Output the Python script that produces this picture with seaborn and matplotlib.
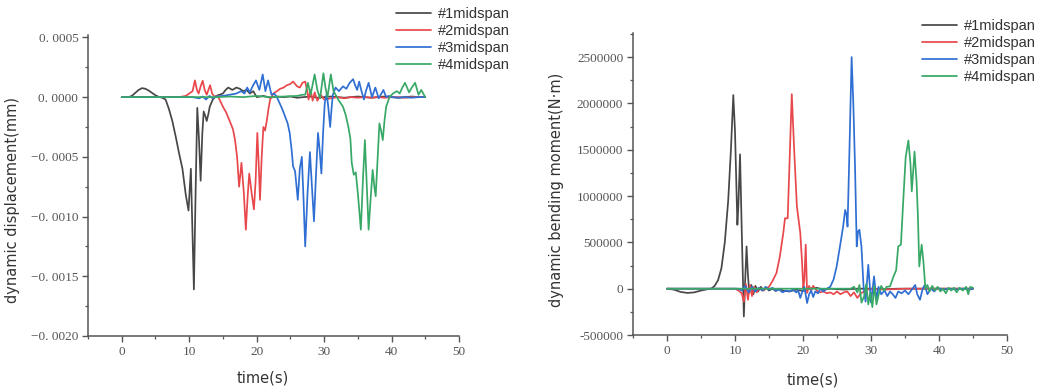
import numpy as np
import pandas as pd
import matplotlib
matplotlib.use("Agg")
import matplotlib.pyplot as plt
from matplotlib.ticker import MultipleLocator, FuncFormatter
import seaborn as sns

series_names = ["#1midspan", "#2midspan", "#3midspan", "#4midspan"]
series_colors = ["#474747", "#e8484c", "#2f6fd3", "#38a866"]

# ---------------- dynamic displacement (unit: 1e-4 mm) ----------------
disp1_t = [0, 1, 1.5, 2, 2.5, 3, 3.5, 4, 4.5, 5, 5.5, 6, 6.5, 7, 7.5, 8, 8.5, 9, 9.5, 9.9,
           10.05, 10.25, 10.45, 10.7, 10.95, 11.2, 11.45, 11.7, 11.95, 12.15, 12.4, 12.6, 12.85,
           13.05, 13.5, 14, 14.5, 15, 15.4, 15.8, 16.4, 17, 17.5, 18, 18.5, 19, 19.5, 20, 21,
           22, 23, 24, 25, 26, 27, 28, 29, 30, 31, 32, 33, 34, 35, 36, 37, 38, 39, 40, 41, 42,
           43, 44, 45]
disp1_v = [0, 0, 0.1, 0.35, 0.6, 0.75, 0.7, 0.55, 0.35, 0.15, 0.02, -0.05, -0.2, -1.0, -2.0,
           -3.3, -4.7, -6.0, -8.2, -9.5, -8.0, -6.0, -10.5, -16.1, -8.0, -0.9, -3.5, -7.0, -3.0,
           -1.2, -1.6, -2.0, -1.4, -0.8, -0.2, 0.1, 0.2, 0.3, 0.6, 0.8, 0.6, 0.8, 0.7, 0.5, 0.6,
           0.3, 0.5, 0.0, 0.1, -0.05, 0.05, 0.0, 0.05, -0.05, 0.0, 0.05, -0.05, 0.0, 0.05, 0.0,
           -0.05, 0.0, 0.05, 0.0, -0.05, 0.0, 0.05, 0.0, -0.05, 0.0, 0.05, 0.0, 0.0]

disp2_t = [0, 8.5, 9.5, 10, 10.5, 10.85, 11.15, 11.4, 11.7, 12.0, 12.3, 12.6, 12.85, 13.1,
           13.4, 13.8, 14.2, 14.5, 15, 15.5, 16, 16.5, 16.8, 17.1, 17.4, 17.75, 18.1, 18.4,
           18.65, 18.9, 19.25, 19.6, 19.85, 20.1, 20.3, 20.5, 20.75, 21, 21.25, 21.5, 21.75,
           22, 22.5, 23, 23.5, 24, 24.5, 25, 25.4, 25.7, 26, 26.4, 26.8, 27.2, 27.5, 27.7, 28,
           28.3, 28.6, 29, 29.5, 30, 31, 32, 33, 34, 35, 36, 37, 38, 39, 40, 41, 42, 43, 44, 45]
disp2_v = [0, 0, 0.1, 0.3, 0.5, 1.4, 0.6, 0.3, 0.9, 1.37, 0.6, 0.2, 0.6, 1.0, 0.3, 0.0, 0.1,
           -0.2, -0.8, -1.3, -2.0, -2.7, -3.6, -5.0, -7.5, -5.5, -8.0, -11.1, -8.5, -6.4, -8.0,
           -9.4, -7.0, -3.0, -5.5, -8.6, -5.0, -2.5, -2.8, -2.0, -1.0, -0.2, 0.3, 0.5, 0.7, 0.8,
           1.0, 1.1, 1.3, 1.1, 0.9, 0.8, 1.2, 1.3, 0.5, -0.2, 0.6, -0.3, 0.4, -0.3, 0.2, -0.2,
           -0.1, 0.0, -0.1, 0.0, -0.05, 0.0, -0.05, 0.0, -0.05, 0.0, 0.0, -0.05, 0.0, 0.0, 0.0]

disp3_t = [0, 10.5, 11.5, 12, 12.5, 13, 13.5, 14, 15, 16, 17, 17.7, 18.2, 18.6, 19, 19.4, 19.9,
           20.4, 20.9, 21.3, 21.7, 22.2, 22.6, 23, 23.4, 23.8, 24.2, 24.6, 24.9, 25.2, 25.4,
           25.7, 26.1, 26.4, 26.7, 26.95, 27.2, 27.55, 27.9, 28.2, 28.5, 28.8, 29.1, 29.35,
           29.6, 29.85, 30.1, 30.4, 30.65, 30.9, 31.1, 31.3, 31.7, 32.2, 32.8, 33.3, 33.8, 34.3,
           34.6, 34.9, 35.2, 35.5, 35.9, 36.2, 36.6, 37.1, 37.6, 38.1, 38.5, 38.8, 39.2, 39.6,
           40, 41, 42, 43, 44, 45]
disp3_v = [0, 0, -0.1, 0.05, -0.2, 0.1, -0.1, 0.05, 0.1, 0.2, 0.3, 0.5, 0.3, 0.8, 0.4, 0.9,
           1.4, 0.6, 1.9, 0.5, 1.4, 0.2, 0.3, 0.0, -0.5, -1.0, -1.6, -2.2, -3.0, -4.5, -5.8,
           -6.2, -8.6, -6.0, -5.0, -8.5, -12.5, -8.0, -4.6, -7.5, -10.4, -6.5, -3.0, -4.5, -6.4,
           -3.0, -0.5, 0.3, -1.0, -2.5, -1.0, 0.2, 0.8, 0.5, 0.9, 0.7, 1.2, 1.5, 1.0, 0.6, 1.3,
           0.6, -0.2, 0.5, 1.2, 0.0, 0.8, -0.1, 0.3, 0.6, 0.0, 0.1, 0.0, -0.05, 0.0, -0.05, 0.0,
           0.0]

disp4_t = [0, 14, 16, 18, 20, 22, 24, 26, 26.8, 27.2, 27.6, 28.0, 28.6, 29.0, 29.4, 29.9, 30.2,
           30.5, 31.0, 31.4, 31.8, 32.2, 32.8, 33.2, 33.6, 33.9, 34.1, 34.4, 34.7, 35.0, 35.45,
           35.75, 36.05, 36.3, 36.6, 36.9, 37.2, 37.45, 37.65, 37.95, 38.2, 38.45, 38.7, 38.95,
           39.2, 39.7, 40.2, 40.8, 41.2, 41.6, 42.0, 42.6, 43.0, 43.5, 44.0, 44.4, 45]
disp4_v = [0, 0, 0.05, 0.0, 0.1, 0.0, 0.05, 0.1, 0.2, 0.2, 1.2, 0.2, 1.9, 0.6, -0.1, 2.0, 0.8,
           0.0, 1.9, 0.5, 0.1, -0.3, -0.8, -1.5, -2.5, -3.5, -5.5, -6.5, -6.3, -8.0, -11.1, -7.0,
           -3.6, -7.0, -11.1, -8.5, -6.1, -7.5, -8.3, -5.0, -2.2, -2.8, -3.6, -2.0, -0.8, 0.0,
           0.3, 0.5, 0.3, 0.8, 1.2, 0.4, 0.8, 1.2, 0.2, 0.6, 0.0]

# ---------------- dynamic bending moment (unit: N*m) ----------------
mom1_t = [0, 1, 2, 3, 4, 5, 6, 6.5, 7, 7.5, 8, 8.5, 9, 9.4, 9.75, 10.0, 10.35, 10.5, 10.74,
          11.0, 11.3, 11.5, 11.7, 11.9, 12.1, 12.4, 12.7, 13.0, 13.4, 13.8, 14.2, 14.6, 15,
          15.5, 16, 16.5, 17, 18, 19, 20, 21, 22, 23, 24, 26, 28, 30, 32, 34, 36, 38, 40, 42,
          44, 45]
mom1_v = [0, -10000, -35000, -46000, -40000, -20000, -5000, 0, 30000, 90000, 220000, 500000,
          950000, 1500000, 2090000, 1700000, 690000, 900000, 1450000, 600000, -300000, 100000,
          456000, 150000, -46000, 40000, -60000, 30000, -30000, 20000, -20000, 10000, -20000, 0,
          -25000, 0, -20000, -30000, -10000, -25000, 0, 10000, -10000, 0, -10000, 0, 0, -5000,
          0, 0, 0, 0, 0, 0, 0]

mom2_t = [0, 10, 10.5, 11, 11.3, 11.6, 11.9, 12.2, 12.5, 12.8, 13.2, 13.6, 14, 14.5, 15, 15.5,
          16.1, 16.6, 17.1, 17.35, 17.75, 18.0, 18.35, 18.7, 19.1, 19.6, 19.85, 20.05, 20.2,
          20.4, 20.6, 20.9, 21.2, 21.5, 22, 22.5, 23, 23.5, 24, 24.5, 25, 25.5, 26, 26.5, 27,
          27.5, 28, 28.5, 29, 29.5, 30, 32, 35, 38, 41, 45]
mom2_v = [0, 0, -20000, -50000, -140000, 50000, -120000, 40000, -80000, 20000, -40000, 10000,
          -20000, 0, 20000, 80000, 170000, 350000, 600000, 760000, 760000, 1320000, 2100000,
          1500000, 890000, 600000, 300000, 0, 100000, 475000, -46000, 30000, -20000, 30000,
          -20000, -40000, -30000, -50000, -40000, -60000, -30000, -60000, -40000, -30000,
          -80000, -40000, -100000, -50000, -30000, -10000, 0, -10000, 0, 0, 0, 0]

mom3_t = [0, 10.5, 11, 11.5, 12, 12.5, 13, 13.5, 14, 14.5, 15, 15.5, 16, 16.5, 17, 17.5, 18,
          18.5, 19, 19.3, 19.6, 19.9, 20.2, 20.6, 20.9, 21.2, 21.5, 21.8, 22.2, 22.6, 23, 23.5,
          24, 24.5, 24.95, 25.4, 25.9, 26.2, 26.4, 26.55, 26.8, 27.15, 27.4, 27.65, 27.9, 28.1,
          28.3, 28.6, 28.9, 29.2, 29.6, 30.0, 30.45, 30.8, 31.1, 31.5, 32, 32.4, 32.8, 33.2,
          33.6, 34, 34.5, 35, 35.5, 36, 36.5, 36.8, 37.2, 37.6, 37.9, 38.3, 38.8, 39.3, 39.8,
          40.5, 41.5, 42.5, 43.5, 44.5, 45]
mom3_v = [0, 0, -20000, 30000, -40000, 20000, -30000, 10000, -20000, 20000, -10000, 10000,
          -20000, -10000, -40000, -20000, -30000, -10000, -40000, -20000, -100000, -30000,
          20000, -155000, -60000, -20000, -90000, -30000, -50000, 0, -30000, 0, 20000, 100000,
          240000, 440000, 670000, 850000, 800000, 670000, 1400000, 2500000, 2000000, 1320000,
          456000, 620000, 636000, 450000, 25000, -140000, 258000, -150000, 133000, -120000,
          20000, -60000, -20000, -80000, -30000, -60000, -100000, -30000, -50000, -20000,
          -60000, -10000, 40000, -60000, -120000, 0, 40000, -60000, 0, -30000, 10000, -10000,
          0, -10000, 0, -10000, 0]

mom4_t = [0, 27, 27.5, 28, 28.3, 28.6, 29.0, 29.3, 29.6, 29.9, 30.2, 30.5, 30.8, 31.2, 31.5,
          31.9, 32.3, 32.8, 33.3, 33.7, 34.0, 34.4, 34.75, 35.1, 35.5, 35.8, 36.0, 36.4, 36.7,
          36.9, 37.1, 37.45, 37.7, 38.0, 38.3, 38.6, 39, 39.4, 39.8, 40.2, 40.6, 41, 41.4, 41.8,
          42.2, 42.6, 43, 43.5, 44, 44.3, 44.6, 45]
mom4_v = [0, 0, 20000, -40000, 40000, -150000, -80000, 50000, -170000, -40000, -200000, 30000,
          -170000, -40000, 30000, -20000, 20000, 25000, 130000, 200000, 456000, 475000, 960000,
          1420000, 1600000, 1350000, 1050000, 1480000, 1150000, 780000, 240000, 475000, 300000,
          0, 40000, -30000, 30000, -20000, 20000, -30000, 0, -50000, 10000, -20000, 10000,
          -40000, 10000, -20000, 20000, -60000, 20000, 10000]

disp_t = [disp1_t, disp2_t, disp3_t, disp4_t]
disp_v = [disp1_v, disp2_v, disp3_v, disp4_v]
mom_t = [mom1_t, mom2_t, mom3_t, mom4_t]
mom_v = [mom1_v, mom2_v, mom3_v, mom4_v]


def make_df(ts, vs, scale=1.0):
    rows = []
    for name, t, v in zip(series_names, ts, vs):
        for a, b in zip(t, v):
            rows.append((name, a, b * scale))
    return pd.DataFrame(rows, columns=["series", "time", "value"])


df_disp = make_df(disp_t, disp_v, 1e-4)
df_mom = make_df(mom_t, mom_v)

sns.set_style("ticks")
plt.rcParams["font.family"] = ["DejaVu Sans"]

fig = plt.figure(figsize=(10.4, 3.92), dpi=100)
ax1 = fig.add_axes([88 / 1040, 1 - 336 / 392, (459 - 88) / 1040, (336 - 35) / 392])
ax2 = fig.add_axes([633 / 1040, 1 - 335 / 392, (1007 - 633) / 1040, (335 - 33) / 392])

palette = dict(zip(series_names, series_colors))
for ax, df in [(ax1, df_disp), (ax2, df_mom)]:
    sns.lineplot(data=df, x="time", y="value", hue="series", palette=palette,
                 estimator=None, sort=False, linewidth=1.25, ax=ax, legend=True)

tick_col = "#555555"
serif = ["Liberation Serif", "DejaVu Serif"]


def disp_fmt(v, pos):
    s = f"{abs(v):.4f}".replace(".", ". ")
    if v < -1e-12:
        s = "\u2212" + s
    return s


def mom_fmt(v, pos):
    s = f"{abs(v):.0f}"
    if v < -1e-6:
        s = "-" + s
    return s


ax1.set_xlim(-5, 50)
ax1.set_ylim(-0.002, 0.00052)
ax1.yaxis.set_major_locator(MultipleLocator(0.0005))
ax1.yaxis.set_minor_locator(MultipleLocator(0.00025))
ax1.yaxis.set_major_formatter(FuncFormatter(disp_fmt))

ax2.set_xlim(-5, 50)
ax2.set_ylim(-500000, 2760000)
ax2.yaxis.set_major_locator(MultipleLocator(500000))
ax2.yaxis.set_minor_locator(MultipleLocator(250000))
ax2.yaxis.set_major_formatter(FuncFormatter(mom_fmt))

for ax in (ax1, ax2):
    ax.xaxis.set_major_locator(MultipleLocator(10))
    ax.xaxis.set_minor_locator(MultipleLocator(5))
    ax.set_xticks([0, 10, 20, 30, 40, 50])
    sns.despine(ax=ax)
    for sp in ("left", "bottom"):
        ax.spines[sp].set_color("#555555")
        ax.spines[sp].set_linewidth(1.1)
    ax.tick_params(which="major", direction="out", length=4, width=1, color="#555555",
                   labelsize=9.5, labelcolor=tick_col, pad=3)
    ax.tick_params(which="minor", direction="out", length=2.5, width=0.9, color="#555555")
    for lab in ax.get_xticklabels() + ax.get_yticklabels():
        lab.set_fontfamily(serif)
    ax.set_xlabel("time(s)", fontsize=10.5, color="#333333")
    ax.get_legend().remove()

ax1.set_ylabel("dynamic displacement(mm)", fontsize=10.5, color="#333333")
ax2.set_ylabel("dynamic bending moment(N\u00b7m)", fontsize=10.5, color="#333333")
ax1.yaxis.set_label_coords((20 - 88) / (459 - 88), (336 - 200) / (336 - 35))
ax2.yaxis.set_label_coords((564 - 633) / (1007 - 633), (335 - 190) / (335 - 33))
ax1.xaxis.set_label_coords((263 - 88) / (459 - 88), -0.115)
ax2.xaxis.set_label_coords((813 - 633) / (1007 - 633), -0.125)

for ax, (x0, y0) in [(ax1, (393 / 1040, 1 - 4 / 392)), (ax2, (919 / 1040, 1 - 16 / 392))]:
    h, l = ax.get_legend_handles_labels()
    leg = fig.legend(h, l, loc="upper left", bbox_to_anchor=(x0, y0), frameon=False,
                     prop={"family": ["Liberation Sans", "DejaVu Sans"], "size": 10.5},
                     handlelength=2.4, handletextpad=0.5, labelspacing=0.2,
                     borderpad=0.2, borderaxespad=0)
    for t in leg.get_texts():
        t.set_color("#333333")

fig.savefig("out.png", dpi=100, facecolor="white")
